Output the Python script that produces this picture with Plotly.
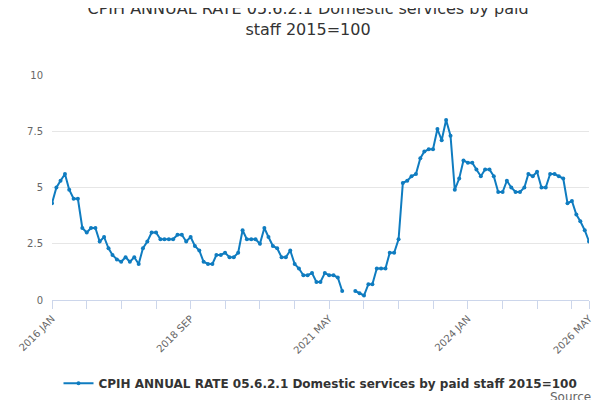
import plotly.graph_objects as go
import pandas as pd

months = pd.date_range("2016-01-01", "2026-05-01", freq="MS")
values = [4.3, 5.0, 5.3, 5.6, 4.9, 4.5, 4.5, 3.2, 3.0, 3.2, 3.2, 2.6,
          2.8, 2.3, 2.0, 1.8, 1.7, 1.9, 1.7, 1.9, 1.6, 2.3, 2.6, 3.0,
          3.0, 2.7, 2.7, 2.7, 2.7, 2.9, 2.9, 2.6, 2.8, 2.4, 2.2, 1.7,
          1.6, 1.6, 2.0, 2.0, 2.1, 1.9, 1.9, 2.1, 3.1, 2.7, 2.7, 2.7,
          2.5, 3.2, 2.8, 2.4, 2.3, 1.9, 1.9, 2.2, 1.6, 1.4, 1.1, 1.1,
          1.2, 0.8, 0.8, 1.2, 1.1, 1.1, 1.0, 0.4, None, None, 0.4, 0.3,
          0.2, 0.7, 0.7, 1.4, 1.4, 1.4, 2.1, 2.1, 2.7, 5.2, 5.3, 5.5,
          5.6, 6.3, 6.6, 6.7, 6.7, 7.6, 7.1, 8.0, 7.3, 4.9, 5.4, 6.2,
          6.1, 6.1, 5.8, 5.5, 5.8, 5.8, 5.5, 4.8, 4.8, 5.3, 5.0, 4.8,
          4.8, 5.0, 5.6, 5.5, 5.7, 5.0, 5.0, 5.6, 5.6, 5.5, 5.4, 4.3,
          4.4, 3.8, 3.5, 3.1, 2.6]
tick_dates = ["2016-01-01", "2018-09-01", "2021-05-01", "2024-01-01", "2026-05-01"]
tick_labels = ["2016 JAN", "2018 SEP", "2021 MAY", "2024 JAN", "2026 MAY"]
minor_dates = list(pd.date_range("2016-01-01", "2026-05-01", freq="8MS")) + [pd.Timestamp("2026-05-01")]

name = "CPIH ANNUAL RATE 05.6.2.1 Domestic services by paid staff 2015=100"

fig = go.Figure()
fig.add_trace(go.Scatter(
    x=months, y=values, mode="lines+markers", name=name,
    line=dict(color="#0f7cc0", width=2), marker=dict(size=4, color="#0f7cc0"),
    connectgaps=False,
))

fig.update_layout(
    width=600, height=400,
    font=dict(family="DejaVu Sans", color="#333"),
    title=dict(text="CPIH ANNUAL RATE 05.6.2.1 Domestic services by paid<br>staff 2015=100",
               x=0.5, y=0.985, yanchor="top", xanchor="center", font=dict(size=16, color="#333")),
    plot_bgcolor="white", paper_bgcolor="white",
    margin=dict(l=44, r=19, t=67, b=107),
    showlegend=True,
    legend=dict(orientation="h", x=0.5, xanchor="center", y=-0.3, yanchor="top",
                font=dict(size=12, color="#333", weight="bold")),
)
fig.update_xaxes(
    automargin=False,
    range=[months[0], months[-1]],
    tickvals=minor_dates,
    ticktext=[tick_labels[tick_dates.index(d.strftime("%Y-%m-%d"))] if d.strftime("%Y-%m-%d") in tick_dates else ""
              for d in minor_dates],
    tickangle=-45, ticks="outside", ticklen=8, tickcolor="#ccd6eb",
    showline=True, linecolor="#ccd6eb", showgrid=False,
    tickfont=dict(size=10, color="#666"),
)
fig.update_yaxes(
    automargin=False,
    range=[0, 10], tickvals=[0, 2.5, 5, 7.5, 10], ticktext=["0", "2.5", "5", "7.5", "10"],
    gridcolor="#e6e6e6", zeroline=False, tickfont=dict(size=10, color="#666"), ticklabelstandoff=8,
)
fig.add_annotation(text="Source:", xref="paper", yref="paper", x=1.015, y=-0.43,
                   xanchor="right", yanchor="middle", showarrow=False,
                   font=dict(size=12, color="#666"))

fig.write_html("out.html")
